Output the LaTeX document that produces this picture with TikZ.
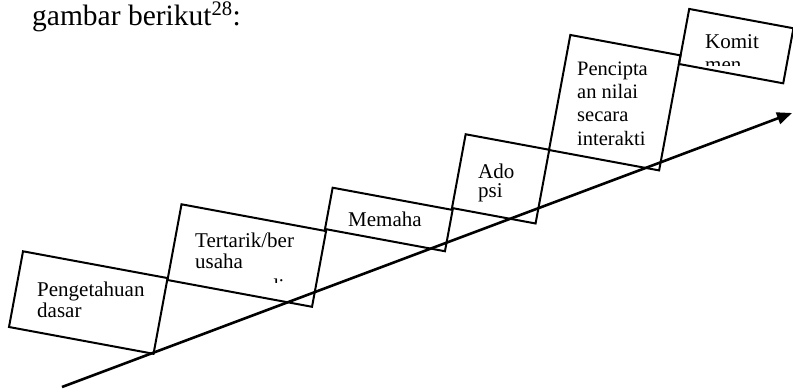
\documentclass[tikz,border=0pt]{standalone}
\usepackage{fontspec}
\setmainfont{Liberation Serif}
\usetikzlibrary{arrows.meta}
\tikzset{
  stage/.style={draw, line width=2pt, rotate=-10.5, anchor=south west,
    inner sep=0pt, outer sep=0pt},
  lbl/.style={anchor=base west, inner sep=0pt, align=left},
}
\begin{document}
\begin{tikzpicture}[x=1pt,y=-1pt]
      \useasboundingbox (0,0) rectangle (793,389);
      \node[anchor=base west, inner sep=0pt, font=\fontsize{29.5}{32}\selectfont]
        (title) at (32,25) {gambar berikut\textsuperscript{28}:};
      % stairs
      \node[stage, minimum width=147pt, minimum height=77pt] (1) at (9,327) {};
      \node[stage, minimum width=147pt, minimum height=77pt] (2) at (167.5,280) {};
      \node[stage, minimum width=122pt, minimum height=42pt] (3) at (325,229) {};
      \node[stage, minimum width=85pt, minimum height=75pt] (4) at (452,208) {};
      \node[stage, minimum width=112pt, minimum height=117pt] (5) at (549,150) {};
      \node[stage, minimum width=106pt, minimum height=56pt] (6) at (679,64) {};
      % texts (base = last line)
      \begin{scope}[every node/.style={lbl}]
        \node[font=\fontsize{21}{21}\selectfont] (t1) at (37,317) {Pengetahuan\\dasar};
        \node[font=\fontsize{21}{21}\selectfont] (t2) at (195,268) {Tertarik/ber\\usaha};
        \node[font=\fontsize{21}{21}\selectfont] (t3) at (348,226) {Memaha};
        \node[font=\fontsize{21}{19}\selectfont] (t4) at (478,197) {Ado\\psi};
        \node[font=\fontsize{20.5}{23.3}\selectfont] (t5) at (577,145) {Pencipta\\an nilai\\secara\\interakti};
        \node[font=\fontsize{21}{21}\selectfont] (t6) at (705,48) {Komit};
      \end{scope}
      \begin{scope}
        \clip (690,50) rectangle (770,65);
        \node[lbl, font=\fontsize{21}{21}\selectfont] (t6b) at (705,71) {men};
      \end{scope}
      \begin{scope}
        \clip (260,270) rectangle (290,282);
        \node[lbl, font=\fontsize{21}{21}\selectfont] (t2b) at (268,293) {di};
      \end{scope}
      % arrow
      \coordinate (s) at (62,387);
      \coordinate (e) at (792,113);
      \draw[line width=2.6pt, -{Triangle[length=15pt,width=12pt]}] (s) -- (e);
    \end{tikzpicture}
\end{document}
